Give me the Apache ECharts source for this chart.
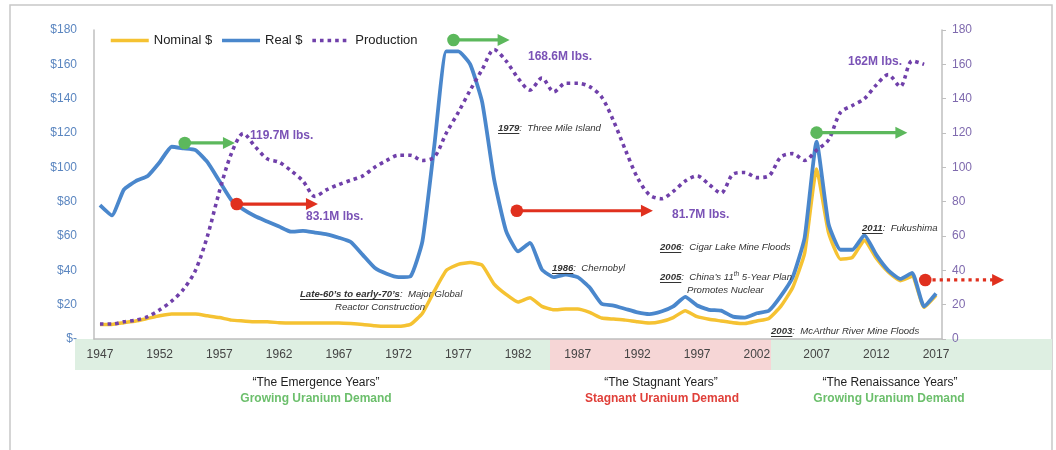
<!DOCTYPE html>
<html>
<head>
<meta charset="utf-8">
<title>Uranium Price and Production, 1947-2017</title>
<script src="https://cdn.jsdelivr.net/npm/echarts@6/dist/echarts.min.js"></script>
<style>
  html, body { margin: 0; padding: 0; background: #ffffff; }
  #chart { width: 1056px; height: 450px; }
</style>
</head>
<body>
<div id="chart"></div>
<script>
// ---- Data -------------------------------------------------------------
const years = [
  '1947','1948','1949','1950','1951','1952','1953','1954','1955','1956',
  '1957','1958','1959','1960','1961','1962','1963','1964','1965','1966',
  '1967','1968','1969','1970','1971','1972','1973','1974','1975','1976',
  '1977','1978','1979','1980','1981','1982','1983','1984','1985','1986',
  '1987','1988','1989','1990','1991','1992','1993','1994','1995','1996',
  '1997','1998','1999','2000','2001','2002','2003','2004','2005','2006',
  '2007','2008','2009','2010','2011','2012','2013','2014','2015','2016',
  '2017'
];

// Uranium price, nominal US$ per lb
const nominalPrice = [
  8.5, 8.5, 9.5, 10.5, 12, 13.5, 14.5, 14.5, 14.5, 13.5,
  12.5, 11, 10.5, 10, 10, 9.5, 9.3, 9.3, 9.3, 9.3,
  9.3, 9, 8.5, 7.7, 7.4, 7.4, 8.5, 15, 28, 40,
  43.5, 44.5, 43, 32, 26, 21.5, 24, 19, 17, 17.5,
  17.5, 15.5, 12.2, 11.6, 11, 10, 9.3, 10.2, 12.5, 16.5,
  13, 11.5, 10.5, 9.5, 9, 10.5, 12, 19, 30, 50,
  99, 62, 46.5, 47.5, 57.5, 47, 39, 34, 36.5, 18.5,
  25.5
];

// Uranium price, inflation-adjusted US$ per lb
const realPrice = [
  78, 72, 87, 92, 95, 103, 112, 111, 110, 103,
  92, 81, 75.5, 71.5, 68.5, 65.5, 62.5, 63, 62, 61,
  59, 56.5, 49, 41.5, 38, 36, 36.5, 57, 113, 167.5,
  167.5, 160, 138, 93, 63, 51, 56, 40.5, 36, 37.5,
  36, 30, 20.5, 19.5, 17.5, 15.5, 14.5, 16, 19, 24.5,
  19.5, 17, 16.5, 13, 12.5, 15, 16.5, 25, 36, 59,
  115, 67, 52, 52, 60.5, 49, 40, 35, 38.5, 19,
  26.5
];

// World uranium production, million lbs U3O8
const production = [
  8.7, 8.7, 10, 11, 13, 17, 22, 29, 40, 60,
  86, 108, 119.7, 112, 105, 103, 98, 92, 83.1, 87,
  90, 92.5, 95, 100, 104, 107, 107, 104, 106, 120,
  132, 145, 157, 168.6, 162, 152, 145, 152, 144, 149,
  149, 147, 141, 127, 110, 94, 84, 81.7, 86, 92,
  95, 90, 85, 96, 97, 94, 95, 106, 108, 104,
  110, 116, 132, 136, 140, 148, 154, 147, 162, 160,
  null
];

const priceTicks = [0, 20, 40, 60, 80, 100, 120, 140, 160, 180];

// Trend arrows: [year, $] for the dot and for the arrow tip
const trendArrows = [
  { from: [1954.1, 114.2], to: [1958.3, 114.2], kind: 'up' },
  { from: [1958.45, 78.6], to: [1965.25, 78.6], kind: 'down' },
  { from: [1976.6, 174.2], to: [1981.3, 174.2], kind: 'up' },
  { from: [1981.9, 74.7], to: [1993.3, 74.7], kind: 'down' },
  { from: [2007.0, 120.2], to: [2014.6, 120.2], kind: 'up' },
  { from: [2016.1, 34.4], to: [2022.7, 34.4], kind: 'downDotted' }
];

const productionCallouts = ['119.7M lbs.', '83.1M lbs.', '168.6M lbs.', '81.7M lbs.', '162M lbs.'];

// ---- Styling ----------------------------------------------------------
const FONT = '"Liberation Sans", Arial, Helvetica, sans-serif';
const C_NOMINAL = '#f5c232';
const C_REAL = '#4a87cc';
const C_PROD = '#7040aa';
const C_PROD_TXT = '#7a52b6';
const C_GREEN = '#5cb85c';
const C_RED = '#e0301e';
const C_AXIS = '#bfbfbf';

const chart = echarts.init(document.getElementById('chart'), null, { renderer: 'canvas' });

chart.setOption({
  animation: false,
  backgroundColor: '#ffffff',
  textStyle: { fontFamily: FONT },
  grid: { left: 94, right: 114, top: 30, bottom: 111, containLabel: false },
  legend: {
    left: 104, top: 29,
    itemWidth: 38, itemHeight: 12, itemGap: 8,
    itemStyle: { opacity: 0 },
    lineStyle: { width: 3.5 },
    textStyle: { fontSize: 13, color: '#222', fontFamily: FONT },
    data: ['Nominal $', 'Real $', 'Production']
  },
  xAxis: {
    type: 'category',
    data: years,
    boundaryGap: true,
    axisLine: { show: true, lineStyle: { color: C_AXIS, width: 1.5 } },
    axisTick: { show: false },
    axisLabel: { interval: 4, margin: 10, fontSize: 12, color: '#444', fontFamily: FONT },
    splitLine: { show: false },
    z: 5
  },
  yAxis: [
    {
      type: 'value', min: 0, max: 180, interval: 20, position: 'left',
      axisLine: { show: true, lineStyle: { color: C_AXIS, width: 1.5 } },
      axisTick: { show: false },
      splitLine: { show: false },
      axisLabel: {
        margin: 17, fontSize: 12, color: '#5b86c0', fontFamily: FONT,
        formatter: v => (v === 0 ? '$-' : '$' + v)
      }
    },
    {
      type: 'value', min: 0, max: 180, interval: 20, position: 'right',
      axisLine: { show: true, lineStyle: { color: C_AXIS, width: 1.5 } },
      axisTick: { show: true, length: 4, lineStyle: { color: C_AXIS } },
      splitLine: { show: false },
      axisLabel: { margin: 10, fontSize: 12, color: '#7f6aae', fontFamily: FONT }
    }
  ],
  series: [
    {
      name: 'Nominal $', type: 'line', yAxisIndex: 0, data: nominalPrice,
      symbol: 'none', smooth: 0.15,
      lineStyle: { color: C_NOMINAL, width: 3.5, join: 'round' },
      itemStyle: { color: C_NOMINAL }
    },
    {
      name: 'Real $', type: 'line', yAxisIndex: 0, data: realPrice,
      symbol: 'none', smooth: 0.15,
      lineStyle: { color: C_REAL, width: 3.8, join: 'round' },
      itemStyle: { color: C_REAL }
    },
    {
      name: 'Production', type: 'line', yAxisIndex: 1, data: production,
      symbol: 'none', smooth: 0.3, connectNulls: false,
      lineStyle: { color: C_PROD, width: 3.6, type: [3.6, 4], cap: 'butt' },
      itemStyle: { color: C_PROD }
    }
  ]
});

// ---- Overlay: era bands, arrows, callouts ----------------------------
const step = chart.convertToPixel({ xAxisIndex: 0 }, '1948') - chart.convertToPixel({ xAxisIndex: 0 }, '1947');
const x0 = chart.convertToPixel({ xAxisIndex: 0 }, '1947');
const xPx = yr => x0 + (yr - 1947) * step;
const yPx = v => chart.convertToPixel({ yAxisIndex: 0 }, v);
const yZero = yPx(0);

const els = [];

// outer frame
els.push({ type: 'rect', z: -10, shape: { x: 10, y: 5, width: 1042, height: 480 },
  style: { fill: 'none', stroke: '#c8c8c8', lineWidth: 1.5 } });

// era bands behind the year labels
const bandTop = yZero, bandH = 31;
els.push({ type: 'rect', z: -5, shape: { x: 75, y: bandTop, width: 475, height: bandH }, style: { fill: '#deefe2' } });
els.push({ type: 'rect', z: -5, shape: { x: 550, y: bandTop, width: 221, height: bandH }, style: { fill: '#f6d6d6' } });
els.push({ type: 'rect', z: -5, shape: { x: 771, y: bandTop, width: 281, height: bandH }, style: { fill: '#deefe2' } });

// era titles
function centerText(x, y, text, size, weight, color) {
  els.push({ type: 'text', z: 20, x: x, y: y,
    style: { text: text, fill: color, align: 'center', verticalAlign: 'middle',
      font: weight + ' ' + size + 'px ' + FONT } });
}
centerText(316, 383, '\u201CThe Emergence Years\u201D', 12, 'normal', '#222');
centerText(316, 399, 'Growing Uranium Demand', 12, 'bold', '#6cbf6c');
centerText(661, 383, '\u201CThe Stagnant Years\u201D', 12, 'normal', '#222');
centerText(662, 399, 'Stagnant Uranium Demand', 12, 'bold', '#e0403a');
centerText(890, 383, '\u201CThe Renaissance Years\u201D', 12, 'normal', '#222');
centerText(889, 399, 'Growing Uranium Demand', 12, 'bold', '#6cbf6c');

// arrows
trendArrows.forEach(a => {
  const color = a.kind === 'up' ? C_GREEN : C_RED;
  const x1 = xPx(a.from[0]), y1 = yPx(a.from[1]);
  const x2 = xPx(a.to[0]), y2 = yPx(a.to[1]);
  const head = 12, half = 6;
  els.push({ type: 'line', z: 60,
    shape: { x1: x1, y1: y1, x2: x2 - head + 1, y2: y2 },
    style: { stroke: color, lineWidth: 3.2,
      lineDash: a.kind === 'downDotted' ? [3.2, 4] : null } });
  els.push({ type: 'polygon', z: 60,
    shape: { points: [[x2, y2], [x2 - head, y2 - half], [x2 - head, y2 + half]] },
    style: { fill: color } });
  els.push({ type: 'circle', z: 61, shape: { cx: x1, cy: y1, r: 6.3 }, style: { fill: color } });
});

// production callouts
const calloutPos = [[250, 136], [306, 217], [528, 57], [672, 215], [848, 62]];
productionCallouts.forEach((t, i) => {
  els.push({ type: 'text', z: 55, x: calloutPos[i][0], y: calloutPos[i][1],
    style: { text: t, fill: C_PROD_TXT, verticalAlign: 'middle', font: 'bold 12px ' + FONT } });
});

// event notes: bold underlined year followed by italic description
const mctx = document.createElement('canvas').getContext('2d');
const noteFont = (size, bold) => 'italic ' + (bold ? 'bold ' : '') + size + 'px ' + FONT;
function note(x, y, segs) {
  let cx = x;
  segs.forEach(s => {
    const size = s.sup ? 6.5 : 9.6;
    const f = noteFont(size, !!s.b);
    mctx.font = f;
    const w = mctx.measureText(s.t).width;
    els.push({ type: 'text', z: 50, x: cx, y: s.sup ? y - 3 : y,
      style: { text: s.t, fill: '#333', verticalAlign: 'middle', font: f } });
    if (s.u) {
      els.push({ type: 'line', z: 50, shape: { x1: cx, y1: y + 5.5, x2: cx + w, y2: y + 5.5 },
        style: { stroke: '#333', lineWidth: 1 } });
    }
    cx += w;
  });
}
note(498, 128, [{ t: '1979', b: 1, u: 1 }, { t: ':  Three Mile Island' }]);
note(552, 268, [{ t: '1986', b: 1, u: 1 }, { t: ':  Chernobyl' }]);
note(660, 247, [{ t: '2006', b: 1, u: 1 }, { t: ':  Cigar Lake Mine Floods' }]);
note(660, 277, [{ t: '2005', b: 1, u: 1 }, { t: ':  China\u2019s 11' }, { t: 'th', sup: 1 }, { t: ' 5-Year Plan' }]);
note(687, 290, [{ t: 'Promotes Nuclear' }]);
note(300, 294, [{ t: 'Late-60\u2019s to early-70\u2019s', b: 1, u: 1 }, { t: ':  Major Global' }]);
note(335, 307, [{ t: 'Reactor Construction' }]);
note(771, 331, [{ t: '2003', b: 1, u: 1 }, { t: ':  McArthur River Mine Floods' }]);
note(862, 228, [{ t: '2011', b: 1, u: 1 }, { t: ':  Fukushima' }]);

chart.setOption({ graphic: { elements: els } });
</script>
</body>
</html>
